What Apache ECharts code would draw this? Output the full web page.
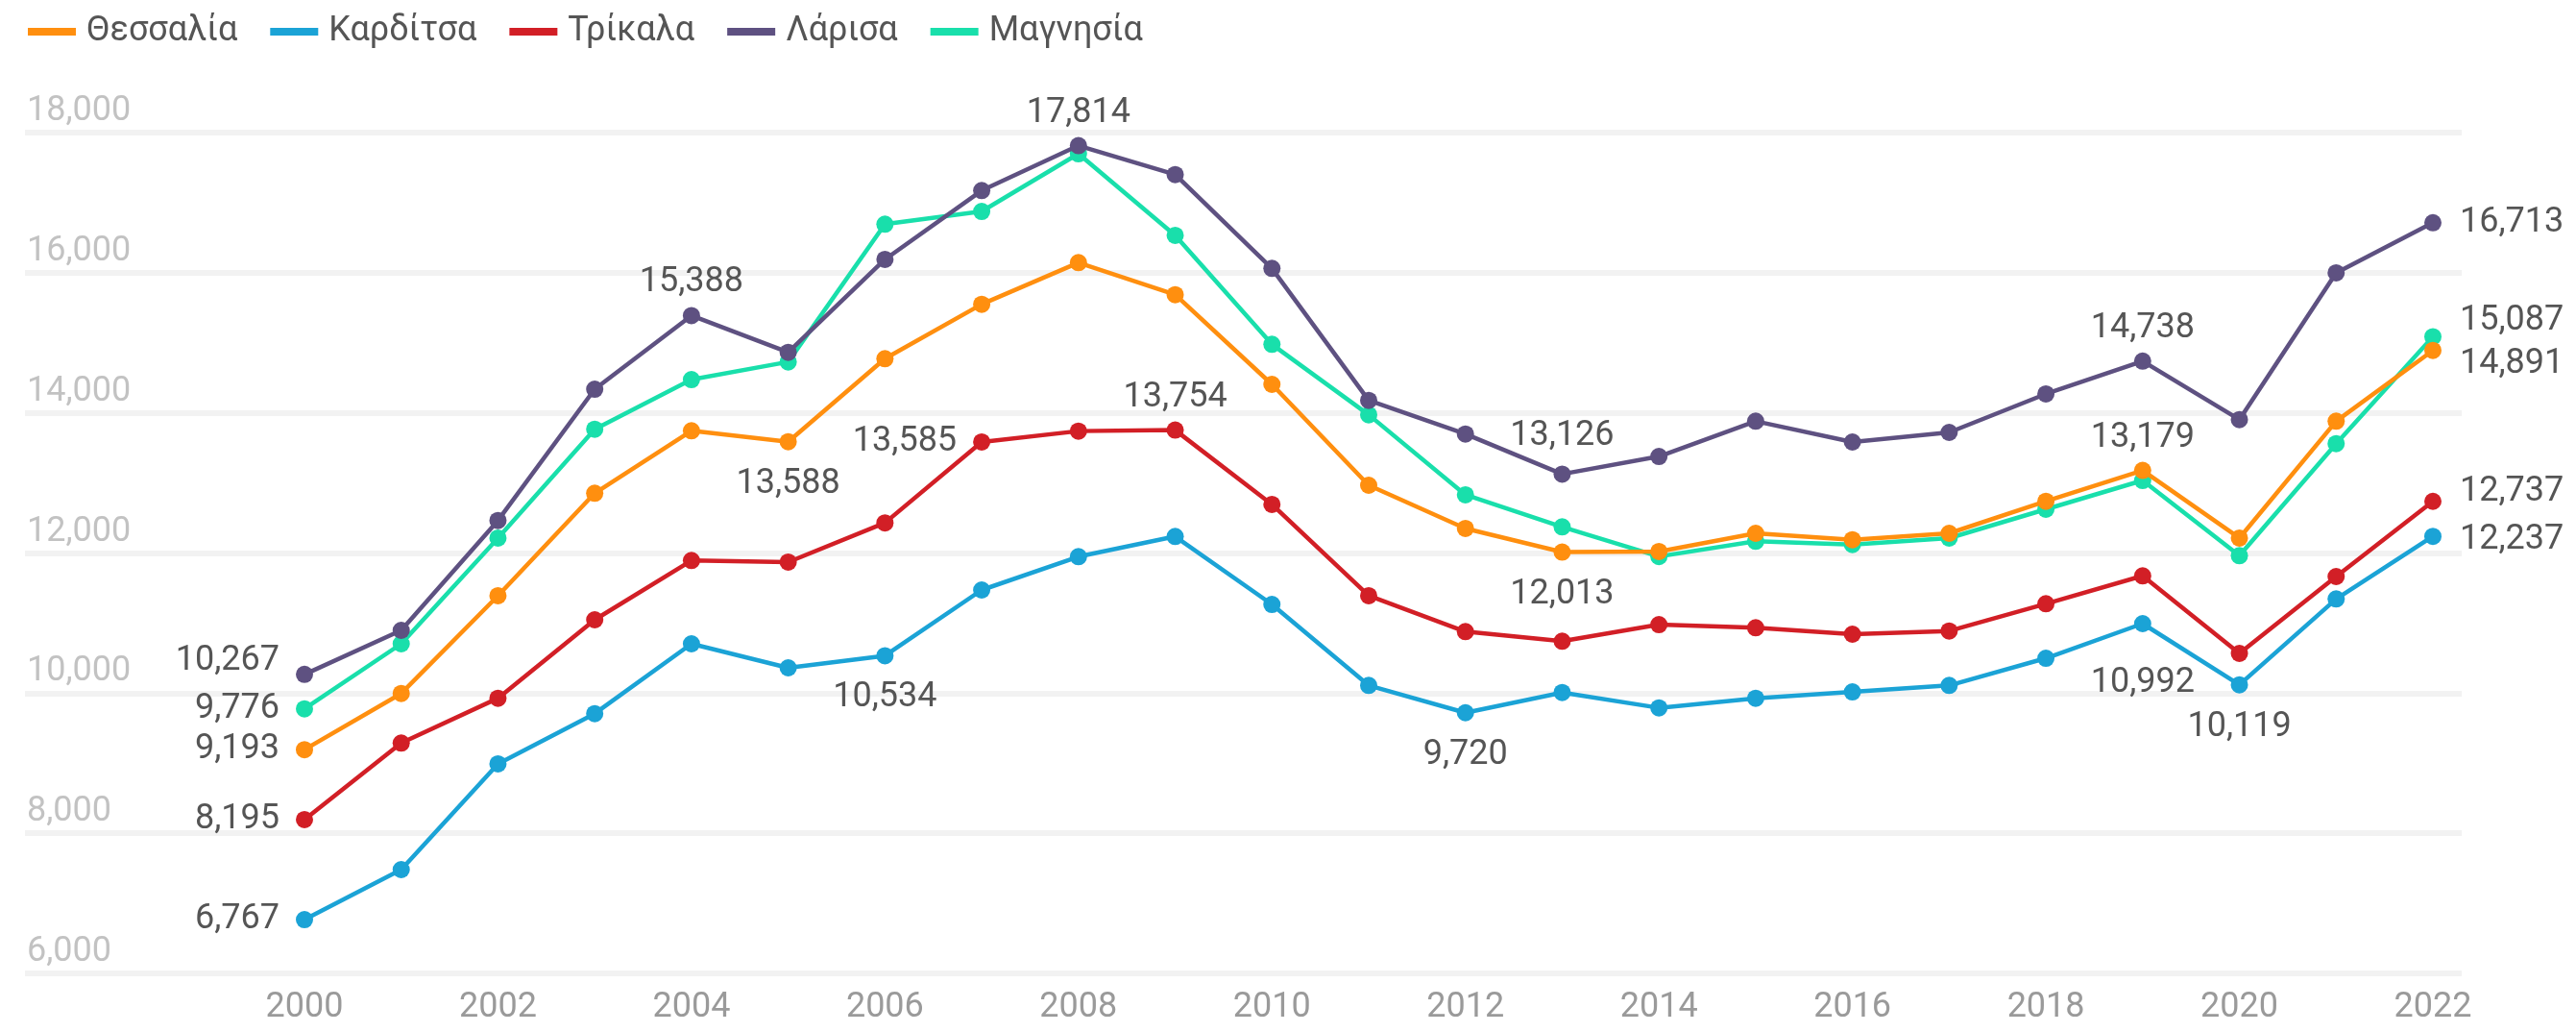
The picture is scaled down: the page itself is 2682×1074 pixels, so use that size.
<!DOCTYPE html>
<html>
<head>
<meta charset="utf-8">
<title>Θεσσαλία</title>
<script src="https://cdn.jsdelivr.net/npm/echarts@6/dist/echarts.min.js"></script>
<style>
  html, body { margin: 0; padding: 0; background: #fff; }
  #chart { width: 2682px; height: 1074px; }
</style>
</head>
<body>
<div id="chart"></div>
<script>
const years = ['2000', '2001', '2002', '2003', '2004', '2005', '2006', '2007', '2008', '2009', '2010', '2011',
  '2012', '2013', '2014', '2015', '2016', '2017', '2018', '2019', '2020', '2021', '2022']

const thessalia = [9193, 9995, 11390, 12853, 13744, 13588, 14773, 15550, 16144, 15687, 14407, 12967,
  12350, 12013, 12021, 12281, 12190, 12281, 12738, 13179, 12213, 13881, 14891]
const karditsa = [6767, 7481, 8990, 9707, 10704, 10361, 10534, 11472, 11948, 12236, 11266, 10110,
  9720, 10009, 9790, 9927, 10018, 10110, 10498, 10992, 10119, 11344, 12237]
const trikala = [8195, 9287, 9927, 11047, 11893, 11870, 12430, 13585, 13740, 13754, 12693, 11390,
  10878, 10741, 10978, 10933, 10841, 10887, 11276, 11674, 10567, 11664, 12737]
const larisa = [10267, 10896, 12464, 14338, 15388, 14864, 16190, 17173, 17814, 17401, 16062, 14178,
  13698, 13126, 13378, 13881, 13584, 13721, 14270, 14738, 13904, 15998, 16713]
const magnisia = [9776, 10704, 12213, 13767, 14475, 14727, 16693, 16875, 17698, 16533, 14978, 13973,
  12830, 12373, 11950, 12167, 12121, 12213, 12624, 13035, 11961, 13561, 15087]

const yTicks = [6000, 8000, 10000, 12000, 14000, 16000, 18000]

const names = ['Θεσσαλία', 'Καρδίτσα', 'Τρίκαλα', 'Λάρισα', 'Μαγνησία']
const values = [thessalia, karditsa, trikala, larisa, magnisia]
const colors = ['#ff8f0f', '#1ba3d6', '#d21f26', '#5e5181', '#19dfab']

// points that carry a value label: [index, position, offset]
const labelSpots = [
  [[0, 'left'], [5, 'bottom'], [13, 'bottom'], [19, 'top'], [22, 'right', [0, 14]]],
  [[0, 'left'], [6, 'bottom'], [12, 'bottom'], [19, 'bottom', [0, 18]], [20, 'bottom'], [22, 'right', [0, 4]]],
  [[0, 'left'], [7, 'left'], [9, 'top'], [22, 'right', [0, -10]]],
  [[0, 'left', [0, -14]], [4, 'top'], [8, 'top'], [13, 'top', [0, -5]], [19, 'top'], [22, 'right']],
  [[0, 'left'], [22, 'right', [0, -16]]]
]

const dist = { left: 17, right: 19, top: 7, bottom: 17 }

const chart = echarts.init(document.getElementById('chart'))

const series = names.map((name, s) => {
  const data = values[s].map((v, i) => {
    const spot = labelSpots[s].find(p => p[0] === i)
    if (!spot) return v
    return {
      value: v,
      label: {
        show: true,
        position: spot[1],
        distance: dist[spot[1]],
        offset: spot[2] || [0, 0]
      }
    }
  })
  return {
    name: name,
    type: 'line',
    xAxisIndex: 1,
    yAxisIndex: 1,
    data: data,
    symbol: 'circle',
    symbolSize: 18,
    showAllSymbol: true,
    z: 10 - s,
    lineStyle: { width: 4.5, color: colors[s] },
    itemStyle: { color: colors[s] },
    label: {
      show: false,
      fontSize: 36,
      color: '#555',
      formatter: p => p.value.toLocaleString('en-US')
    },
    emphasis: { disabled: true }
  }
})

const option = {
  animation: false,
  textStyle: { fontFamily: 'Roboto' },
  legend: {
    data: names,
    left: 24,
    top: 10,
    icon: 'rect',
    itemWidth: 50,
    itemHeight: 8,
    itemGap: 34,
    textStyle: { fontSize: 36, color: '#555', padding: [0, 0, 0, 6] }
  },
  grid: [
    // background grid with the horizontal lines and y labels
    { left: 26, right: 119, top: 138, bottom: 61 },
    // plot area for the lines
    { left: 317, right: 149, top: 138, bottom: 61 }
  ],
  xAxis: [
    { gridIndex: 0, type: 'value', show: false },
    {
      gridIndex: 1,
      type: 'category',
      data: years,
      boundaryGap: false,
      axisLine: { show: false },
      axisTick: { show: false },
      axisLabel: { interval: 1, fontSize: 36, color: '#9a9a9a', margin: 18 }
    }
  ],
  yAxis: [
    {
      gridIndex: 0,
      type: 'value',
      min: yTicks[0],
      max: yTicks[yTicks.length - 1],
      interval: 2000,
      axisLine: { show: false },
      axisTick: { show: false },
      splitLine: { show: true, lineStyle: { color: '#f2f2f2', width: 6 } },
      axisLabel: {
        inside: true,
        align: 'left',
        verticalAlign: 'bottom',
        margin: 2,
        padding: [0, 0, 4, 0],
        fontSize: 36,
        color: '#c2c2c2',
        formatter: v => v.toLocaleString('en-US')
      }
    },
    {
      gridIndex: 1,
      type: 'value',
      min: yTicks[0],
      max: yTicks[yTicks.length - 1],
      show: false
    }
  ],
  series: series
}

chart.setOption(option)
</script>
</body>
</html>
